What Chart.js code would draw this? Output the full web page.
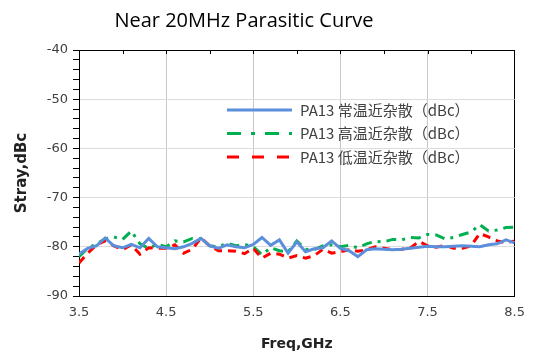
<!DOCTYPE html>
<html>
<head>
<meta charset="utf-8">
<script src="https://cdn.jsdelivr.net/npm/chart.js@4"></script>
<style>
  body { margin: 0; background: #fff; }
  #wrap { position: relative; width: 534px; height: 359px; }
  #title { position: absolute; left: 0; width: 488px; top: 6px; text-align: center;
           font: 20px "Open Sans", "Noto Sans", sans-serif; color: #000; }
</style>
</head>
<body>
<div id="wrap">
  <div id="title">Near 20MHz Parasitic Curve</div>
  <canvas id="c" width="534" height="359"></canvas>
</div>
<script>
// data (0.1 GHz step)
const freq = [3.5,3.6,3.7,3.8,3.9,4.0,4.1,4.2,4.3,4.4,
              4.5,4.6,4.7,4.8,4.9,5.0,5.1,5.2,5.3,5.4,
              5.5,5.6,5.7,5.8,5.9,6.0,6.1,6.2,6.3,6.4,
              6.5,6.6,6.7,6.8,6.9,7.0,7.1,7.2,7.3,7.4,
              7.5,7.6,7.7,7.8,7.9,8.0,8.1,8.2,8.3,8.4,8.5];
const normalTemp = [-81.5,-80.3,-79.8,-78.2,-79.8,-80.2,-79.5,-80.2,-78.3,-80.0,
                    -80.2,-80.4,-80.0,-79.3,-78.3,-79.8,-80.3,-79.6,-80.0,-80.2,
                    -79.5,-78.1,-79.7,-78.6,-81.3,-79.0,-81.0,-80.4,-80.2,-78.8,
                    -80.3,-80.8,-82.0,-80.6,-80.4,-80.5,-80.6,-80.5,-80.3,-80.1,
                    -79.9,-80.0,-80.0,-79.9,-79.8,-79.9,-80.0,-79.6,-79.4,-78.6,-79.2];
const highTemp = [-82.0,-80.3,-79.4,-78.4,-78.0,-78.5,-76.8,-79.4,-80.3,-79.5,
                  -80.0,-78.8,-79.0,-78.3,-78.4,-79.8,-80.0,-79.3,-79.8,-79.5,
                  -80.0,-81.6,-80.2,-80.8,-81.0,-78.8,-80.5,-80.6,-79.8,-79.6,
                  -80.0,-79.7,-80.2,-79.4,-78.9,-79.0,-78.5,-78.6,-78.1,-78.2,
                  -77.5,-77.6,-78.4,-78.1,-77.5,-77.0,-75.5,-76.8,-76.6,-76.1,-76.0];
const lowTemp = [-83.3,-81.3,-79.6,-78.8,-79.8,-80.6,-79.6,-81.5,-80.2,-80.3,
                 -80.3,-79.6,-81.3,-80.5,-78.2,-79.8,-80.8,-80.8,-80.9,-81.4,
                 -80.3,-82.3,-81.3,-81.5,-82.3,-81.8,-82.3,-81.8,-80.5,-81.3,
                 -81.0,-80.6,-80.9,-80.6,-80.0,-80.3,-80.6,-80.5,-80.3,-78.9,
                 -79.8,-80.1,-79.7,-80.3,-80.3,-79.8,-77.3,-78.0,-78.8,-79.2,-78.8];
const seriesNames = ['PA13 常温近杂散（dBc）', 'PA13 高温近杂散（dBc）', 'PA13 低温近杂散（dBc）'];
const xTicks = [3.5, 4.5, 5.5, 6.5, 7.5, 8.5];
const xTopTicks = [4.0, 4.5, 5.0, 5.5, 6.0, 6.5, 7.0, 7.5, 8.0];

const pts = arr => arr.map((v, i) => ({ x: freq[i], y: v }));

// legend inside the plot + small inward ticks on the top frame
const extras = {
  id: 'extras',
  afterDraw(chart) {
    const { ctx, chartArea } = chart;
    const xs = chart.scales.x;
    ctx.save();
    ctx.strokeStyle = '#000';
    ctx.lineWidth = 1;
    xTopTicks.forEach(v => {
      const px = Math.round(xs.getPixelForValue(v)) + 0.5;
      ctx.beginPath();
      ctx.moveTo(px, chartArea.top);
      ctx.lineTo(px, chartArea.top + 4);
      ctx.stroke();
    });
    ctx.restore();

    const x0 = chartArea.left + 148;
    chart.data.datasets.forEach((ds, i) => {
      const y = chartArea.top + 60 + i * 23.5;
      ctx.save();
      ctx.strokeStyle = ds.borderColor;
      ctx.lineWidth = 3;
      ctx.setLineDash(ds.legendDash);
      ctx.beginPath();
      ctx.moveTo(x0, y);
      ctx.lineTo(x0 + 65, y);
      ctx.stroke();
      ctx.setLineDash([]);
      ctx.fillStyle = '#404040';
      ctx.font = '15px "Noto Sans CJK SC", sans-serif';
      ctx.textBaseline = 'middle';
      ctx.fillText(ds.label, x0 + 73, y);
      ctx.restore();
    });
  }
};

new Chart(document.getElementById('c'), {
  type: 'line',
  data: {
    datasets: [
      { label: seriesNames[0], data: pts(normalTemp), borderColor: '#5b8fdb', borderWidth: 3,
        legendDash: [], order: 0 },
      { label: seriesNames[1], data: pts(highTemp), borderColor: '#00b050', borderWidth: 3,
        borderDash: [10, 6, 3, 6], legendDash: [14, 10, 4, 10], order: 2 },
      { label: seriesNames[2], data: pts(lowTemp), borderColor: '#ff0000', borderWidth: 3,
        borderDash: [8, 6], legendDash: [12, 13], order: 1 }
    ]
  },
  options: {
    responsive: false,
    animation: false,
    layout: { padding: { top: 50, right: 18, left: 0, bottom: 0 } },
    elements: { point: { radius: 0 }, line: { tension: 0 } },
    plugins: { legend: { display: false }, tooltip: { enabled: false } },
    scales: {
      x: {
        type: 'linear', min: 3.5, max: 8.5,
        afterBuildTicks: s => { s.ticks = xTicks.map(v => ({ value: v })); },
        afterFit: s => { s.height = 63; },
        grid: {
          drawTicks: false,
          color: c => c.tick.value === 8.5 ? '#000' : '#c8c8c8',
          lineWidth: 1
        },
        border: { color: '#000', width: 1 },
        ticks: { padding: 9, color: '#404040', font: { family: 'DejaVu Sans', size: 13 },
                 callback: v => v.toFixed(1) },
        title: { display: true, text: 'Freq,GHz', color: '#222',
                 font: { family: 'DejaVu Sans', size: 14, weight: 'bold' }, padding: { top: 4, bottom: 6 } }
      },
      y: {
        min: -90, max: -40,
        afterFit: s => { s.width = 79; },
        ticks: { stepSize: 2, autoSkip: false, padding: 5, color: '#404040',
                 font: { family: 'DejaVu Sans', size: 13 },
                 callback: v => v % 10 === 0 ? v : '' },
        grid: {
          tickLength: 6,
          tickColor: '#000',
          color: c => c.tick.value === -40 ? '#000' : (c.tick.value % 10 === 0 ? '#dcdcdc' : 'rgba(0,0,0,0)')
        },
        border: { color: '#000', width: 1 },
        title: { display: true, text: 'Stray,dBc', color: '#222',
                 font: { family: 'DejaVu Sans', size: 15, weight: 'bold' }, padding: { top: 13, bottom: 0 } }
      }
    }
  },
  plugins: [extras]
});
</script>
</body>
</html>
